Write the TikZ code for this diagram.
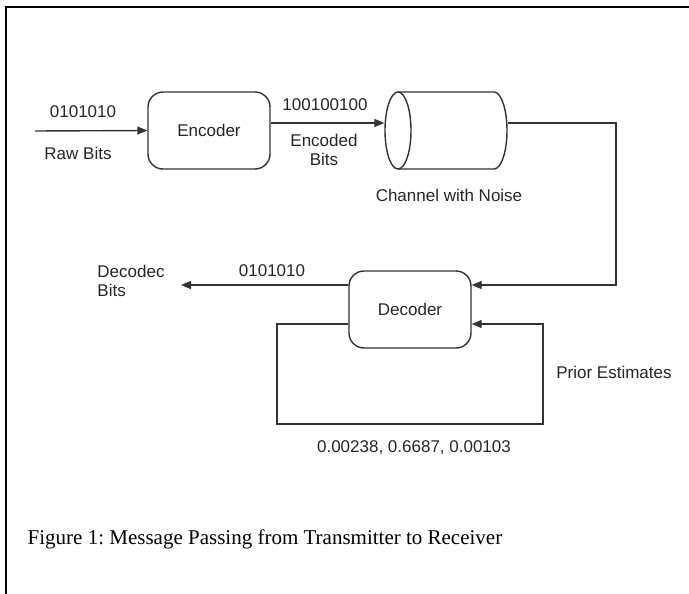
\documentclass[tikz,border=0pt]{standalone}
\usepackage{fontspec}
\setmainfont{Liberation Serif}
\setsansfont{Liberation Sans}
\usetikzlibrary{arrows.meta,positioning}

\tikzset{
  block/.style={shape=rectangle,draw,rounded corners=15pt,minimum width=122pt,minimum height=77pt,inner sep=0pt},
  channel/.style={shape=rectangle,minimum width=122pt,minimum height=77pt,inner sep=0pt},
  lbl/.style={font=\sffamily\fontsize{17}{19}\selectfont,inner sep=0pt,text=black!85}
}

\begin{document}
\frenchspacing
\begin{tikzpicture}[x=1pt,y=-1pt,>={Triangle[length=10pt,width=8pt]},line width=1.4pt,draw=black!80,every node/.style={lbl}]
	\useasboundingbox (0,0) rectangle (689,594);
	% page frame
	\draw[line width=2pt,draw=black] (6,594) -- (6,7) -- (689,7);

	\node (encoder) [block] at (209,130.5) {Encoder};
	\node (channel) [channel] at (446,130.5) {};
	\node (decoder) [block] at (410,309.5) {Decoder};

	% channel drawn as a lying cylinder
	\draw (398,130.5) ellipse (13 and 38.5);
	\draw (398,92) -- (494,92) arc (-90:90:13 and 38.5) -- (398,169);

	\coordinate (rawin) at (35,131);
	\coordinate (chanturn) at (616,285);
	\coordinate (decout) at (181,285);
	\coordinate (loopbl) at (277,424);
	\coordinate (looptr) at (543,324);

	\node (rawval) at (83,112) {0101010};
	\node (rawtxt) at (78,153) {Raw Bits};
	\node (encval) at (325,105) {100100100};
	\node (enctxt) [align=center] at (324,150) {Encoded\\Bits};
	\node (chantxt) at (449,195) {Channel with Noise};
	\node (decval) at (272,271) {0101010};
	\node (dectxt) [align=left] at (131,280.5) {Decodec\\Bits};
	\node (priortxt) at (614,372) {Prior Estimates};
	\node (priorval) at (414,448) {0.00238, 0.6687, 0.00103};

	\draw[->] (rawin) -- (encoder.west);
	\draw[->] ([yshift=7.5pt]encoder.east) -- ([yshift=7.5pt]channel.west);
	\draw[->] ([yshift=7.5pt]channel.east) -| (chanturn) -- (decoder.east |- chanturn);
	\draw[->] (decoder.west |- chanturn) -- (decout);
	\draw[->] (decoder.west |- looptr) -| (loopbl) -| (looptr) -- (decoder.east |- looptr);

	\node (caption) [anchor=base west,font=\rmfamily\fontsize{21}{24}\selectfont,text=black] at (27,544) {Figure 1: Message Passing from Transmitter to Receiver};
\end{tikzpicture}
\end{document}
